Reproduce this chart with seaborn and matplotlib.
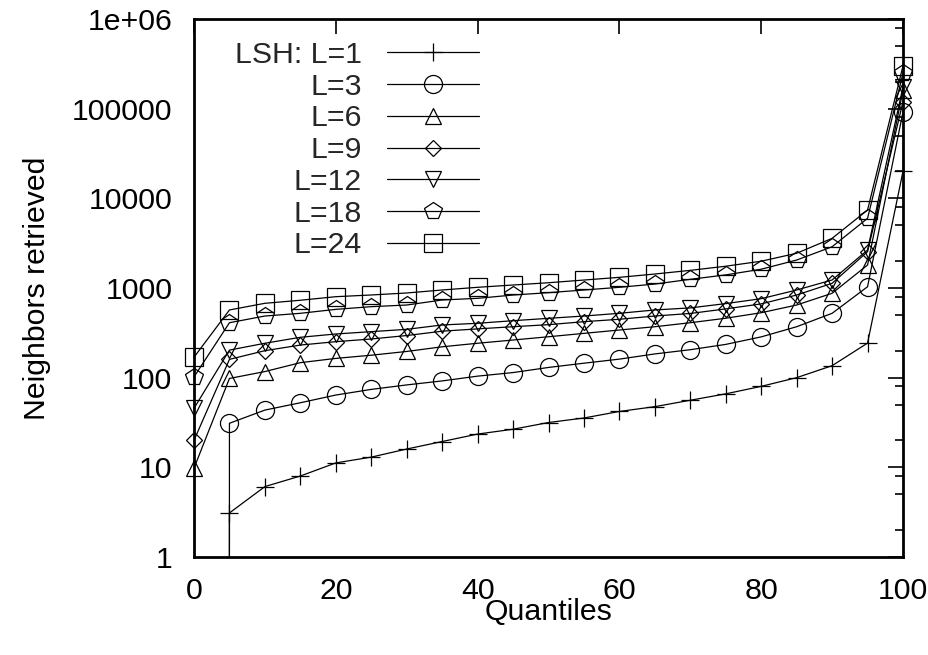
import matplotlib
matplotlib.use("Agg")
import matplotlib.pyplot as plt
import numpy as np
import pandas as pd
import seaborn as sns
from matplotlib.ticker import FixedLocator, FixedFormatter, LogLocator, NullFormatter, NullLocator
from matplotlib.transforms import Bbox, TransformedBbox

# ---------------- data ----------------
quantiles = [0, 5, 10, 15, 20, 25, 30, 35, 40, 45, 50, 55, 60, 65, 70, 75, 80, 85, 90, 95, 100]
series_labels = ["LSH: L=1", "L=3", "L=6", "L=9", "L=12", "L=18", "L=24"]

l1 = [0, 3.1, 6.1, 8.0, 11.2, 13.0, 16.0, 19.4, 23.5, 26.6, 31.6, 35.5, 42, 47.5, 56, 66, 80, 100, 136, 243, 20000]
l3 = [0, 31, 43.5, 52.5, 64, 74, 83, 92, 104, 114, 130, 145, 161, 184, 205, 235, 285, 370, 522, 1033, 92000]
l6 = [9.8, 98, 117, 147, 164, 178, 196, 221, 242, 263, 286, 312, 340, 370, 410, 460, 530, 646, 873, 1804, 160000]
l9 = [20, 160, 200, 231, 252, 270, 295, 330, 350, 370, 390, 421, 448, 487, 520, 585, 665, 835, 1128, 2540, 120000]
l12 = [45.5, 203, 242, 282, 307, 326, 346, 387, 404, 432, 459, 487, 522, 569, 600, 670, 760, 950, 1228, 2653, 176000]
l18 = [102, 410, 487, 522, 578, 619, 646, 735, 767, 835, 887, 950, 1018, 1107, 1250, 1400, 1620, 2050, 2885, 5980, 248000]
l24 = [169, 569, 675, 730, 800, 836, 880, 950, 1018, 1080, 1145, 1227, 1315, 1432, 1573, 1750, 1990, 2440, 3580, 7400, 300000]

xtick_values = [0, 20, 40, 60, 80, 100]
xtick_labels = ["0", "20", "40", "60", "80", "100"]
ytick_values = [1, 10, 100, 1000, 10000, 100000, 1000000]
ytick_labels = ["1", "10", "100", "1000", "10000", "100000", "1e+06"]

all_series = [l1, l3, l6, l9, l12, l18, l24]
frames = []
for lab, vals in zip(series_labels, all_series):
    frames.append(pd.DataFrame({"quantile": quantiles, "neighbors": vals, "series": lab}))
df = pd.concat(frames, ignore_index=True)

# ---------------- style ----------------
sns.set_style("white")
plt.rcParams["font.family"] = ["Liberation Sans", "DejaVu Sans"]
FS = 21.8

markers = ["+", "o", "^", "D", "v", "p", "s"]
msizes = [13, 13, 12, 8.5, 12, 13, 12.5]

fig = plt.figure(figsize=(9.29, 6.55), dpi=100)
ax = fig.add_axes([194 / 929, 1 - 557 / 655, 709 / 929, 538 / 655])

for lab, m, ms in zip(series_labels, markers, msizes):
    sub = df[df["series"] == lab]
    sns.lineplot(data=sub, x="quantile", y="neighbors", ax=ax, color="black",
                 linewidth=0.9, marker=m, markersize=ms, markerfacecolor="none",
                 markeredgecolor="black", markeredgewidth=0.9, label=lab,
                 estimator=None, sort=False)

ax.set_yscale("log")
ax.set_xlim(0, 100)
ax.set_ylim(1, 1e6)

# let markers at the x edges spill over the frame, but clip at bottom
clip = TransformedBbox(Bbox([[-0.05, 0.0], [1.05, 1.05]]), ax.transAxes)
for line in ax.get_lines():
    line.set_clip_path(None)
    line.set_clip_box(clip)

ax.yaxis.set_major_locator(FixedLocator(ytick_values))
ax.yaxis.set_major_formatter(FixedFormatter(ytick_labels))
ax.yaxis.set_minor_locator(LogLocator(base=10, subs=[2, 5, 8], numticks=30))
ax.yaxis.set_minor_formatter(NullFormatter())
ax.xaxis.set_major_locator(FixedLocator(xtick_values))
ax.xaxis.set_major_formatter(FixedFormatter(xtick_labels))
ax.xaxis.set_minor_locator(NullLocator())

ax.tick_params(which="both", direction="in", top=True, right=True, width=1.2, color="black")
ax.tick_params(which="major", length=10.5, labelsize=FS, labelcolor="black")
ax.tick_params(axis="x", which="major", pad=14.5)
ax.tick_params(axis="y", which="major", pad=15.5)
ax.tick_params(which="minor", length=5.5)

for sp in ax.spines.values():
    sp.set_linewidth(2.0)
    sp.set_color("black")

ax.set_xlabel("Quantiles", fontsize=FS, color="black")
ax.set_ylabel("Neighbors retrieved", fontsize=FS, color="black")
ax.xaxis.set_label_coords(0.5, -0.076)
ax.yaxis.set_label_coords(-0.2017, 0.5)

ax.legend(loc="upper right", bbox_to_anchor=(0.402, 0.9595), frameon=False,
          markerfirst=False, handlelength=3.04, handletextpad=0.83,
          labelspacing=0.125, borderpad=0, borderaxespad=0, fontsize=FS,
          numpoints=1)

fig.savefig("out.png", dpi=100)
